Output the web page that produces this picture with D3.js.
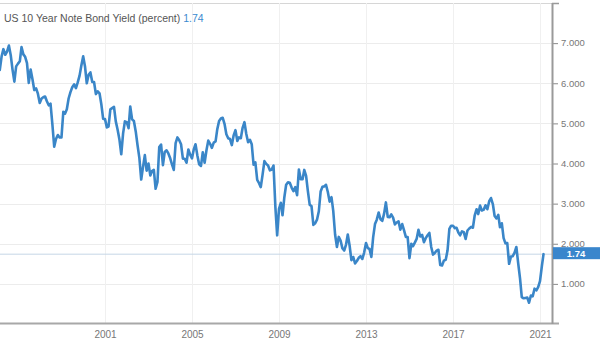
<!DOCTYPE html>
<html>
<head>
<meta charset="utf-8">
<script src="https://cdn.jsdelivr.net/npm/d3@7"></script>
<style>
  html, body { margin: 0; padding: 0; background: #fff; }
  svg { display: block; }
</style>
</head>
<body>
<svg id="chart" width="600" height="345"></svg>
<script>
// ---- data ----
const titleText = "US 10 Year Note Bond Yield (percent)";
const lastValue = 1.74;
const startYear = 1996, startMonth = 2; // March 1996 (0-based month)
const yields = [
  6.33, 6.67, 6.85, 6.71, 6.79, 6.94, 6.70, 6.34, 6.04, 6.42,
  6.49, 6.55, 6.90, 6.72, 6.66, 6.50, 6.01, 6.34, 6.10, 5.83, 5.87, 5.74,
  5.51, 5.62, 5.65, 5.67, 5.55, 5.45, 5.49, 4.98, 4.42, 4.61, 4.71, 4.65,
  4.65, 5.29, 5.24, 5.35, 5.62, 5.78, 5.90, 5.97, 5.88, 6.02, 6.19, 6.44,
  6.67, 6.41, 6.00, 6.21, 6.27, 6.03, 6.03, 5.73, 5.80, 5.75, 5.47, 5.11,
  5.11, 4.90, 4.92, 5.35, 5.38, 5.41, 5.05, 4.84, 4.59, 4.23, 4.75, 5.05,
  5.03, 4.88, 5.42, 5.10, 5.06, 4.80, 4.46, 4.14, 3.60, 3.91, 4.21, 3.82,
  4.00, 3.70, 3.81, 3.84, 3.37, 3.54, 4.41, 4.47, 3.96, 4.29, 4.33, 4.25,
  4.13, 3.97, 3.84, 4.51, 4.65, 4.58, 4.48, 4.12, 4.12, 4.02, 4.35, 4.22,
  4.13, 4.36, 4.48, 4.20, 3.98, 3.94, 4.28, 4.02, 4.33, 4.57, 4.49, 4.39,
  4.52, 4.55, 4.85, 5.06, 5.12, 5.14, 4.99, 4.73, 4.63, 4.61, 4.46, 4.70,
  4.83, 4.56, 4.65, 4.63, 4.89, 5.03, 4.74, 4.53, 4.59, 4.48, 3.97, 4.03,
  3.59, 3.51, 3.41, 3.73, 4.06, 3.99, 3.95, 3.83, 3.85, 3.95, 2.92, 2.21,
  2.87, 3.02, 2.71, 3.16, 3.47, 3.53, 3.52, 3.40, 3.31, 3.41, 3.21, 3.85,
  3.61, 3.61, 3.84, 3.69, 3.31, 2.97, 2.94, 2.47, 2.51, 2.60, 2.81, 3.30,
  3.42, 3.43, 3.47, 3.29, 3.05, 3.16, 2.82, 2.23, 1.92, 2.17, 2.08, 1.89,
  1.83, 1.98, 2.23, 1.95, 1.59, 1.67, 1.51, 1.57, 1.65, 1.69, 1.62, 1.78,
  2.02, 1.89, 1.87, 1.67, 2.16, 2.49, 2.60, 2.78, 2.61, 2.57, 2.75, 3.03,
  2.67, 2.66, 2.73, 2.65, 2.48, 2.53, 2.56, 2.35, 2.49, 2.34, 2.17, 2.17,
  1.64, 2.00, 1.94, 2.03, 2.12, 2.35, 2.18, 2.22, 2.04, 2.14, 2.21, 2.27,
  1.92, 1.73, 1.77, 1.83, 1.85, 1.47, 1.46, 1.58, 1.60, 1.83, 2.37, 2.45,
  2.45, 2.39, 2.40, 2.28, 2.21, 2.31, 2.29, 2.12, 2.33, 2.38, 2.42, 2.40,
  2.71, 2.86, 2.74, 2.95, 2.83, 2.85, 2.96, 2.86, 3.06, 3.14, 2.99, 2.69,
  2.63, 2.72, 2.41, 2.51, 2.14, 2.01, 2.02, 1.50, 1.68, 1.69, 1.78, 1.92,
  1.51, 1.13, 0.67, 0.64, 0.65, 0.66, 0.53, 0.71, 0.69, 0.88, 0.84, 0.92,
  1.07, 1.44, 1.74
];
const xTickYears = [2001, 2005, 2009, 2013, 2017, 2021];
const yTickValues = [1, 2, 3, 4, 5, 6, 7];

// ---- build ----
const data = yields.map((v, i) => ({ date: new Date(startYear, startMonth + i, 1), value: v }));

const svg = d3.select("#chart");
const axisX = 552, axisBottom = 324, axisTop = 3;
const font = "Arial, 'Liberation Sans', sans-serif";

const x = d3.scaleTime()
  .domain([new Date(2001, 0, 1), new Date(2021, 0, 1)])
  .range([105, 540]);
const y = d3.scaleLinear().domain([0, 8]).range([axisBottom, axisTop]);

// horizontal gridlines
svg.append("g").selectAll("line").data(yTickValues.concat([8])).join("line")
  .attr("x1", 0).attr("x2", axisX)
  .attr("y1", d => Math.round(y(d)) + 0.5).attr("y2", d => Math.round(y(d)) + 0.5)
  .attr("stroke", d => d === 8 ? "#d6d6d6" : "#ececec").attr("stroke-width", 1);

// vertical gridlines
svg.append("g").selectAll("line").data(xTickYears).join("line")
  .attr("x1", d => Math.round(x(new Date(d, 0, 1))) + 0.5)
  .attr("x2", d => Math.round(x(new Date(d, 0, 1))) + 0.5)
  .attr("y1", axisTop).attr("y2", axisBottom)
  .attr("stroke", "#f0f0f0").attr("stroke-width", 1);

// last value reference line
svg.append("line")
  .attr("x1", 0).attr("x2", axisX)
  .attr("y1", y(lastValue)).attr("y2", y(lastValue))
  .attr("stroke", "#c5d6e6").attr("stroke-width", 1);

// series line
svg.append("clipPath").attr("id", "clip")
  .append("rect").attr("x", 0).attr("y", 0).attr("width", axisX).attr("height", axisBottom);

svg.append("path")
  .datum(data)
  .attr("clip-path", "url(#clip)")
  .attr("fill", "none")
  .attr("stroke", "#3a86c8")
  .attr("stroke-width", 2.6)
  .attr("stroke-linejoin", "round")
  .attr("stroke-linecap", "round")
  .attr("d", d3.line().x(d => x(d.date)).y(d => y(d.value)));

// bottom axis
const xAxis = d3.axisBottom(x)
  .tickValues(xTickYears.map(yr => new Date(yr, 0, 1)))
  .tickFormat(d3.timeFormat("%Y"))
  .tickSize(0).tickPadding(7);
const gx = svg.append("g").attr("transform", `translate(0,${axisBottom})`).call(xAxis);
gx.select(".domain").remove();
gx.selectAll("text").attr("fill", "#777").style("font-family", font).style("font-size", "10px");
svg.append("line").attr("x1", 0).attr("x2", 559).attr("y1", axisBottom - 0.5).attr("y2", axisBottom - 0.5)
  .attr("stroke", "#a8a8a8").attr("stroke-width", 2);

// right axis
const yAxis = d3.axisRight(y)
  .tickValues(yTickValues)
  .tickFormat(d3.format(".3f"))
  .tickSize(6).tickPadding(3);
const gy = svg.append("g").attr("transform", `translate(${axisX},0)`).call(yAxis);
gy.select(".domain").remove();
gy.selectAll(".tick line").attr("stroke", "#8a8a8a");
gy.selectAll("text").attr("fill", "#777").attr("dy", "0.3em").style("font-family", font).style("font-size", "9.5px");
svg.append("line").attr("x1", axisX + 0.5).attr("x2", axisX + 0.5).attr("y1", axisTop).attr("y2", axisBottom)
  .attr("stroke", "#9a9a9a").attr("stroke-width", 2);
svg.append("line").attr("x1", axisX).attr("x2", 559).attr("y1", axisTop + 0.5).attr("y2", axisTop + 0.5)
  .attr("stroke", "#9a9a9a").attr("stroke-width", 1.5);

// last value box
const boxY = y(lastValue);
svg.append("rect").attr("x", axisX + 1).attr("y", boxY - 7).attr("width", 600 - axisX - 1).attr("height", 12)
  .attr("fill", "#3a86cc");
svg.append("text").attr("x", 576).attr("y", boxY + 2.8)
  .attr("text-anchor", "middle").attr("fill", "#fff")
  .style("font-family", font).style("font-size", "9.5px").style("font-weight", "bold")
  .text(lastValue.toFixed(2));

// title
const t = svg.append("text").attr("x", 4).attr("y", 21.5)
  .style("font-family", font).style("font-size", "10.5px");
t.append("tspan").attr("fill", "#555").text(titleText + " ");
t.append("tspan").attr("fill", "#3a8ad0").text(lastValue.toFixed(2));
</script>
</body>
</html>
